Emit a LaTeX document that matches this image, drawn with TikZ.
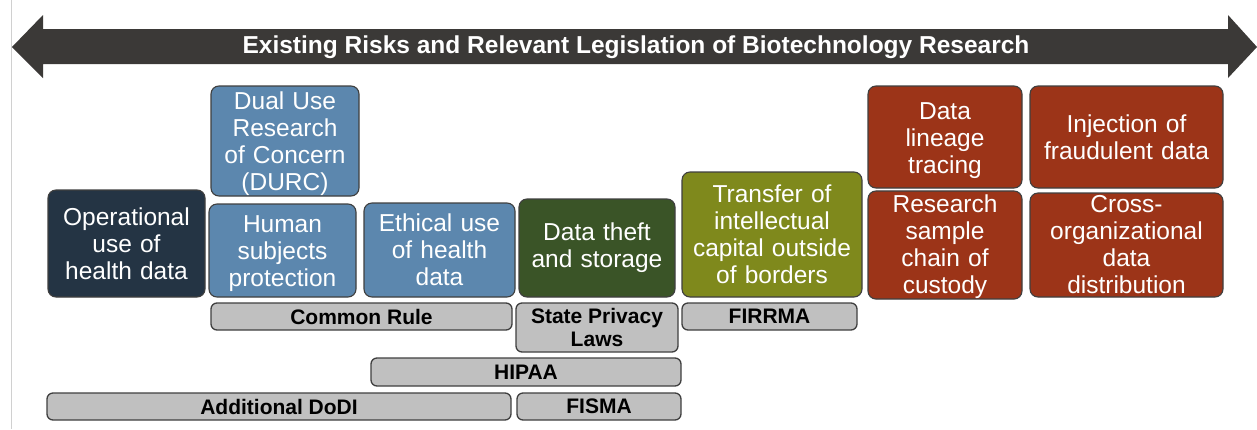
\documentclass[tikz,border=0pt]{standalone}
\usepackage{fontspec}
\setmainfont{Liberation Sans}
\usepackage{tikz}

\definecolor{banner}{HTML}{3B3937}
\definecolor{edge}{HTML}{3F3F3F}
\definecolor{navy}{HTML}{243444}
\definecolor{steel}{HTML}{5C87AE}
\definecolor{forest}{HTML}{3A5427}
\definecolor{olive}{HTML}{7F891C}
\definecolor{rust}{HTML}{9C3418}
\definecolor{lawgrey}{HTML}{C0C0C0}
\definecolor{rule}{HTML}{D0D0D0}

\newcommand{\riskfont}{\fontsize{24.5}{27}\selectfont}
\newcommand{\lawfont}{\bfseries\fontsize{21}{23}\selectfont}

\begin{document}
\begin{tikzpicture}[x=1pt,y=-1pt,
   risk/.style n args={3}{rectangle,rounded corners=8pt,draw=edge,line width=1.1pt,fill=#1,text=white,
      minimum width=#2,text width=#2,inner xsep=0pt,inner ysep=0pt,minimum height=#3,align=center,font=\riskfont},
   law/.style n args={2}{rectangle,rounded corners=6pt,draw=edge,line width=1.3pt,fill=lawgrey,
      minimum width=#1,minimum height=#2,inner sep=0pt,align=center,font=\lawfont}]
\useasboundingbox[fill=white] (0,0) rectangle (1257,429);
\draw[rule,line width=1pt] (11.5,0) -- (11.5,429);
% two-headed banner
\fill[banner] (12,47) -- (43,15) -- (43,29) -- (1228,29) -- (1228,15) -- (1257,47)
   -- (1228,78) -- (1228,64) -- (43,64) -- (43,78) -- cycle;
\node (title) at (636,47) [text=white,font=\bfseries\fontsize{24.5}{27}\selectfont]
   {Existing Risks and Relevant Legislation of Biotechnology Research};
% risks
\node (oper)     at (126.5,243.5) [risk={navy}{157pt}{107pt}]   {Operational\\use of\\health data};
\node (durc)     at (285,141)     [risk={steel}{148pt}{110pt}]  {\rule{0pt}{23pt}Dual Use\\Research\\of Concern\\(DURC)};
\node (human)    at (282.5,250.5) [risk={steel}{147pt}{93pt}]   {\rule{0pt}{24pt}Human\\subjects\\protection};
\node (ethic)    at (439.5,250)   [risk={steel}{151pt}{94pt}]   {Ethical use\\of health\\data};
\node (theft)    at (597,248)     [risk={forest}{156pt}{98pt}]  {Data theft\\and storage};
\node (transfer) at (772,234.5)   [risk={olive}{180pt}{125pt}]  {Transfer of\\intellectual\\capital outside\\of borders};
\node (lineage)  at (945,137)     [risk={rust}{154pt}{102pt}]   {\rule{0pt}{24pt}Data\\lineage\\tracing};
\node (inject)   at (1126.5,137)  [risk={rust}{193pt}{102pt}]   {Injection of\\fraudulent data};
\node (sample)   at (945,245)     [risk={rust}{154pt}{104pt}]   {\rule{0pt}{22pt}Research\\sample\\chain of\\custody};
\node (cross)    at (1126.5,245)  [risk={rust}{193pt}{104pt}]   {Cross-\\organizational\\data\\distribution};
% legislation
\foreach \n/\x/\y/\w/\h/\l in %
{common/361.5/316.5/301/27/{Common Rule},
 state/597/327.5/162/49/{State Privacy\\Laws},
 firrma/769.5/316.5/175/27/{FIRRMA},
 hipaa/526/372/310/28/{HIPAA},
 dodi/279/406.5/464/27/{Additional DoDI},
 fisma/599/406.5/164/27/{FISMA}} {
   \node (\n) at (\x,\y) [law={\w pt}{\h pt}] {\l};
}
\end{tikzpicture}
\end{document}
